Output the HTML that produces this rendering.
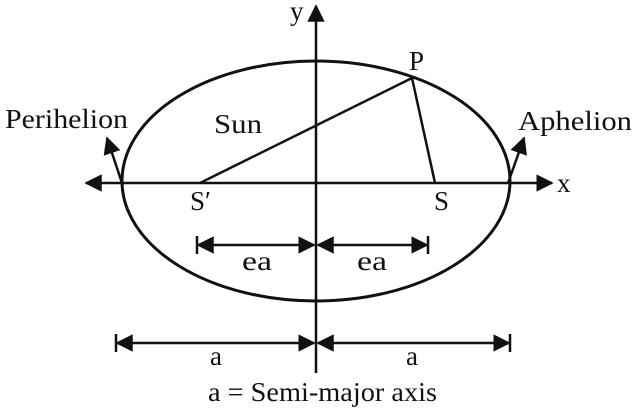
<!DOCTYPE html>
<html><head><style>
html,body{margin:0;padding:0;background:#fff;}
svg{display:block;}
text{font-family:"Liberation Serif",serif;fill:#111;}
</style></head><body>
<svg width="637" height="413" viewBox="0 0 637 413" xmlns="http://www.w3.org/2000/svg">
<defs>
<marker id="ah" viewBox="0 0 10 10" refX="9" refY="5" markerWidth="7" markerHeight="7" orient="auto-start-reverse" markerUnits="strokeWidth">
<path d="M0,0 L10,5 L0,10 z" fill="#111"/></marker>
</defs>
<g stroke="#111" stroke-width="3" fill="none">
<ellipse cx="316" cy="181" rx="194" ry="120"/>
</g>
<g stroke="#111" stroke-width="2.5" fill="none">
<line x1="316" y1="373" x2="316" y2="6" marker-end="url(#ah)"/>
<line x1="86" y1="183" x2="552" y2="183" marker-start="url(#ah)" marker-end="url(#ah)"/>
<line x1="200" y1="183" x2="412" y2="78"/>
<line x1="412" y1="78" x2="435" y2="183"/>
<line x1="122" y1="183" x2="107" y2="138" marker-end="url(#ah)"/>
<line x1="508" y1="183" x2="524" y2="138" marker-end="url(#ah)"/>
<line x1="198" y1="245" x2="314" y2="245" marker-start="url(#ah)" marker-end="url(#ah)"/>
<line x1="318" y1="245" x2="427" y2="245" marker-start="url(#ah)" marker-end="url(#ah)"/>
<line x1="197" y1="236" x2="197" y2="254"/>
<line x1="428" y1="236" x2="428" y2="254"/>
<line x1="117" y1="343" x2="314" y2="343" marker-start="url(#ah)" marker-end="url(#ah)"/>
<line x1="318" y1="343" x2="509" y2="343" marker-start="url(#ah)" marker-end="url(#ah)"/>
<line x1="116" y1="334" x2="116" y2="352"/>
<line x1="510" y1="334" x2="510" y2="352"/>
</g>
<g font-size="27">
<text x="290" y="20">y</text>
<text x="557" y="192">x</text>
<text x="409" y="70">P</text>
<text x="214" y="133" textLength="48" lengthAdjust="spacingAndGlyphs">Sun</text>
<text x="5" y="128" textLength="123" lengthAdjust="spacingAndGlyphs">Perihelion</text>
<text x="518" y="130" textLength="114" lengthAdjust="spacingAndGlyphs">Aphelion</text>
<text x="190" y="210">S′</text>
<text x="434" y="210">S</text>
<text x="242" y="270" textLength="30" lengthAdjust="spacingAndGlyphs">ea</text>
<text x="357" y="270" textLength="30" lengthAdjust="spacingAndGlyphs">ea</text>
<text x="210" y="365">a</text>
<text x="406" y="365">a</text>
<text x="208" y="401" textLength="229" lengthAdjust="spacingAndGlyphs">a = Semi-major axis</text>
</g>
</svg>
</body></html>
